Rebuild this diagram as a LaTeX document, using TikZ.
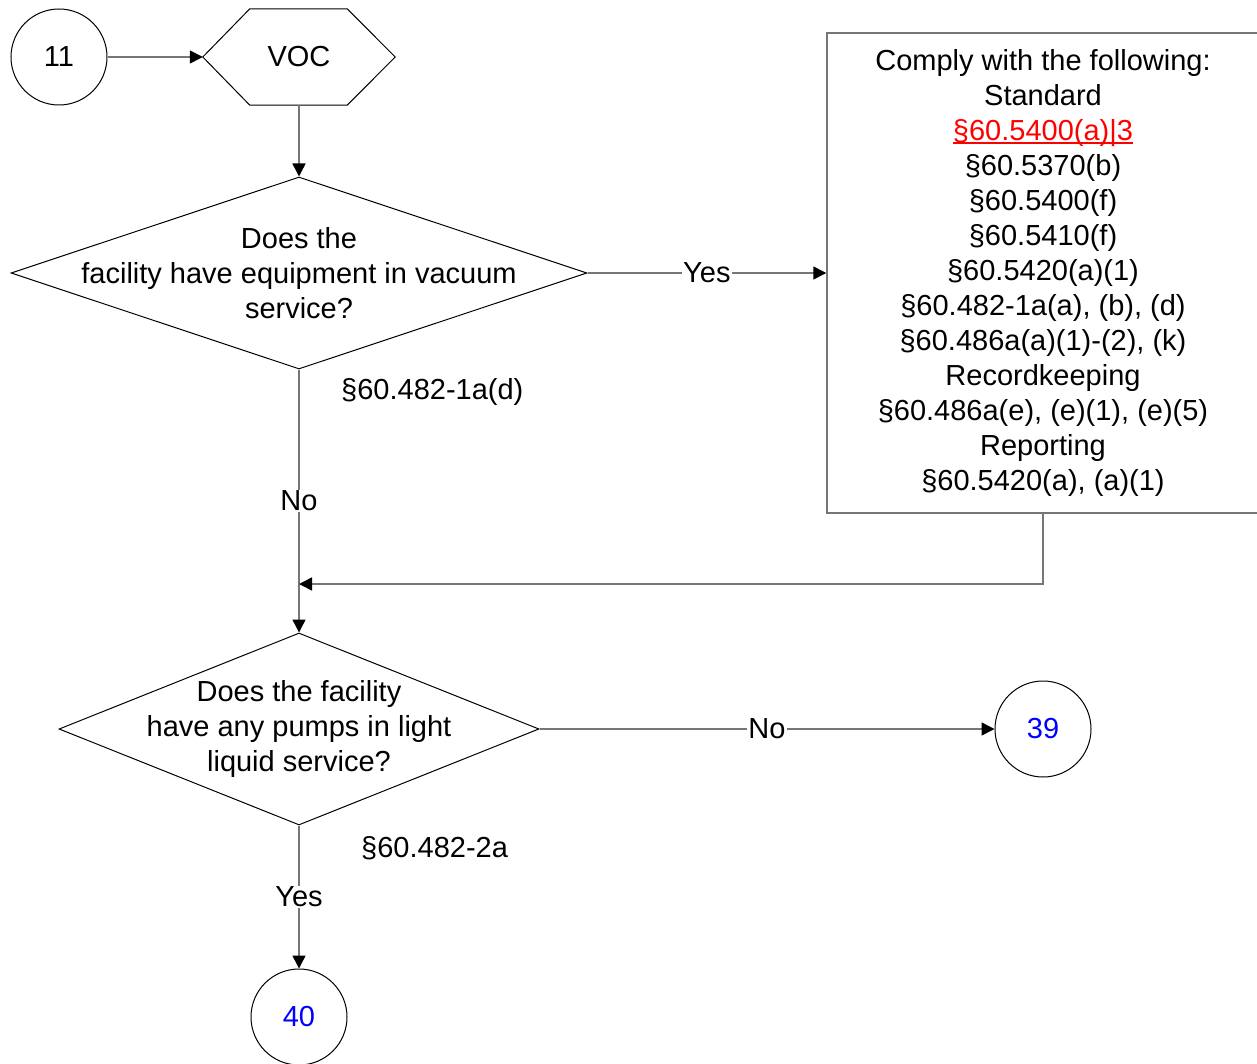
\documentclass[tikz,border=0pt]{standalone}
\usepackage{fontspec}
\setmainfont{Liberation Sans}
\usetikzlibrary{shapes.geometric,arrows.meta}
\definecolor{linegray}{RGB}{118,118,118}
\newsavebox\ulbox
\newcommand{\redlink}[1]{\sbox\ulbox{#1}\rlap{\rule[-3pt]{\wd\ulbox}{1.3pt}}\usebox\ulbox}

\begin{document}
\begin{tikzpicture}[x=1pt, y=-1pt, font=\fontsize{29}{35}\selectfont,
    offpage/.style={circle, draw, line width=1pt, minimum size=96pt, inner sep=0pt},
    decision/.style={diamond, draw, line width=1pt, inner sep=0pt, minimum height=192pt},
    flow/.style={draw=linegray, line width=1.5pt,
      -{Triangle[length=13pt, width=13pt, color=black]}},
    tag/.style={fill=white, inner sep=1pt}]
    \useasboundingbox (0,0) rectangle (1257,1064);

    \node (start) [offpage] at (59,57) {11};
    \node (voc) [minimum width=192pt, minimum height=96pt, inner sep=0pt] at (299,57) {VOC};
    \draw[line width=1pt] (voc.west) -- ([xshift=47pt]voc.north west)
      -- ([xshift=-48pt]voc.north east) -- (voc.east)
      -- ([xshift=-48pt]voc.south east) -- ([xshift=47pt]voc.south west) -- cycle;

    \node (vacuum) [decision, minimum width=576pt] at (299,273) {};
    \node [align=center] at (vacuum) {Does the\\facility have equipment in vacuum\\service?};
    \node (comply) [draw=linegray, line width=1.5pt, minimum width=432pt, minimum height=480pt,
      align=center] at (1043,273) {Comply with the following:\\Standard\\
      \textcolor{red}{\redlink{§60.5400(a)|3}}\\§60.5370(b)\\§60.5400(f)\\§60.5410(f)\\
      §60.5420(a)(1)\\§60.482-1a(a), (b), (d)\\§60.486a(a)(1)-(2), (k)\\Recordkeeping\\
      §60.486a(e), (e)(1), (e)(5)\\Reporting\\§60.5420(a), (a)(1)};
    \node (cite1) [anchor=west, inner sep=0pt] at (341,392) {§60.482-1a(d)};

    \node (pumps) [decision, minimum width=480pt] at (299,729) {};
    \node [align=center] at (pumps) {Does the facility\\have any pumps in light\\liquid service?};
    \node (cite2) [anchor=west, inner sep=0pt] at (361,848) {§60.482-2a};
    \node (p39) [offpage, text=blue] at (1043,729) {39};
    \node (p40) [offpage, text=blue] at (299,1017) {40};
    \coordinate (merge) at (299,584);

    \draw[flow] (start) -- (voc.west);
    \draw[flow] (voc.south) -- (vacuum.north);
    \draw[flow] (vacuum.east) -- (comply.west) node[midway, tag] {Yes};
    \draw[flow] (vacuum.south) -- (pumps.north) node[midway, tag] {No};
    \draw[flow] (comply.south) |- (merge);
    \draw[flow] (pumps.east) -- (p39) node[midway, tag] {No};
    \draw[flow] (pumps.south) -- (p40) node[midway, tag] {Yes};
  \end{tikzpicture}
\end{document}
